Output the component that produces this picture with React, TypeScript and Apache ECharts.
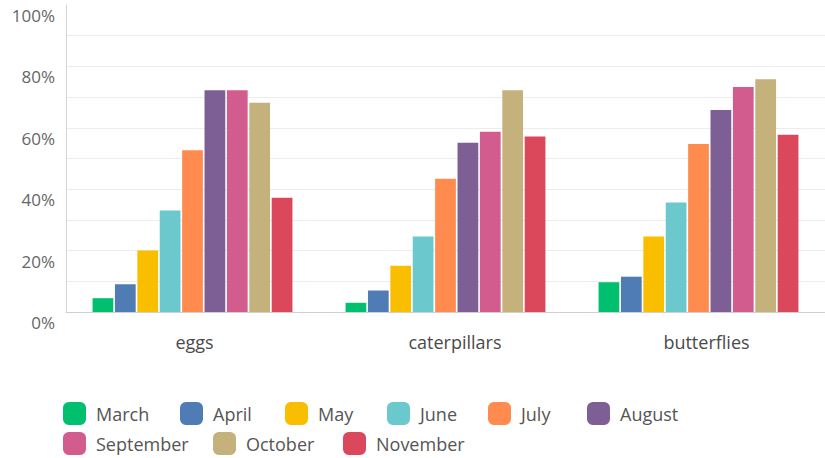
import React, { useEffect, useRef } from "react";
import * as echarts from "echarts";

const categories = ["eggs", "caterpillars", "butterflies"];
const months = ["March", "April", "May", "June", "July", "August", "September", "October", "November"];
const march = [4.5, 3.0, 9.7];
const april = [9.0, 7.0, 11.5];
const may = [20.0, 15.1, 24.6];
const june = [33.1, 24.6, 35.7];
const july = [52.7, 43.4, 54.7];
const august = [72.2, 55.1, 65.8];
const september = [72.2, 58.7, 73.3];
const october = [68.2, 72.2, 75.8];
const november = [37.2, 57.2, 57.7];
const seriesValues = [march, april, may, june, july, august, september, october, november];
const colors = ["#00bf6f", "#507cb6", "#f9be00", "#6bc8cd", "#ff8b4f", "#7d5f95", "#d35c8f", "#c4b17b", "#db485c"];
const yTicks = [0, 20, 40, 60, 80, 100];

const FONT = "'Open Sans', sans-serif";
const legendLefts = [63, 180, 285, 387, 488, 587, 63, 213, 343];
const legendTops = [402, 402, 402, 402, 402, 402, 432, 432, 432];
const labelShift = [4, 19, 16];

export default function App() {
  const ref = useRef<HTMLDivElement>(null);
  useEffect(() => {
    if (!ref.current) return;
    const chart = echarts.init(ref.current, null, { renderer: "svg" });
    const rich: Record<string, any> = {};
    categories.forEach((c, i) => {
      rich["c" + i] = { fontFamily: FONT, fontSize: 18, color: "#4a4a4a", padding: [0, 0, 0, labelShift[i]] };
    });
    chart.setOption({
      animation: false,
      color: colors,
      grid: { left: 66, top: 5, width: 765, height: 307 },
      legend: months.map((m, i) => ({
        data: [m],
        left: legendLefts[i],
        top: legendTops[i],
        itemWidth: 23,
        itemHeight: 23,
        icon: "roundRect",
        selectedMode: false,
        padding: 0,
        textStyle: { fontFamily: FONT, fontSize: 18, color: "#555", padding: [0, 0, 0, 5] },
      })),
      xAxis: {
        type: "category",
        data: categories,
        axisLine: { show: true, lineStyle: { color: "#cfcfcf" } },
        axisTick: { show: false },
        axisLabel: {
          fontFamily: FONT,
          fontSize: 18,
          color: "#4a4a4a",
          margin: 21,
          formatter: (v: string) => "{c" + categories.indexOf(v) + "|" + v + "}",
          rich,
        },
      },
      yAxis: {
        type: "value",
        min: 0,
        max: 100,
        interval: 10,
        axisLine: { show: true, lineStyle: { color: "#d5d5d5" } },
        axisTick: { show: false },
        splitLine: { showMaxLine: false, lineStyle: { color: "#ececec" } },
        axisLabel: {
          fontFamily: FONT,
          fontSize: 17,
          color: "#666",
          margin: 11,
          verticalAlign: "top",
          padding: [2, 0, 0, 0],
          formatter: (v: number) => (yTicks.indexOf(v) >= 0 ? v + "%" : ""),
        },
      },
      series: months.map((m, i) => ({
        name: m,
        type: "bar",
        data: seriesValues[i],
        barGap: "8%",
        barCategoryGap: "21%",
        itemStyle: { color: colors[i] },
      })),
    });
    return () => chart.dispose();
  }, []);
  return (
    <div
      ref={ref}
      style={{ position: "fixed", left: 0, top: 0, width: 825, height: 458, background: "#fff" }}
    />
  );
}
